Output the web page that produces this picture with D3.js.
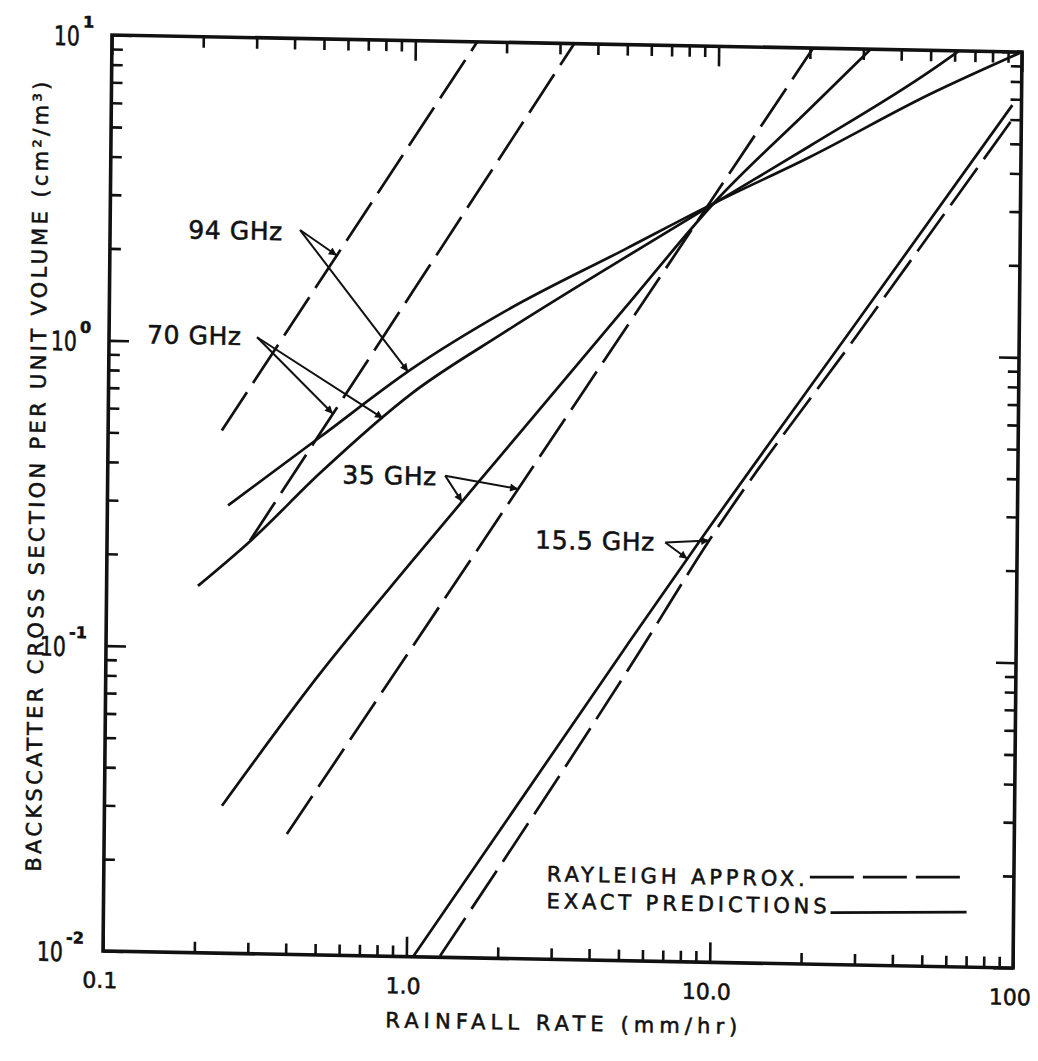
<!DOCTYPE html>
<html>
<head>
<meta charset="utf-8">
<script src="https://cdn.jsdelivr.net/npm/d3@7"></script>
<style>
  html, body { margin: 0; padding: 0; background: #ffffff; }
  text { font-family: "DejaVu Sans", sans-serif; fill: #111; stroke: #111; stroke-width: 0.55; }
</style>
</head>
<body>
<svg id="chart" width="1038" height="1061"></svg>
<script>
// Rainfall rate R (mm/hr) vs. backscatter cross section per unit volume (cm^2/m^3)

// Rayleigh approximation (dashed)
const rayleigh94R  = [0.237, 0.6, 1.6];
const rayleigh94S  = [0.515, 2.18, 10];
const rayleigh70R  = [0.296, 1.0, 3.34];
const rayleigh70S  = [0.2255, 1.51, 10];
const rayleigh35R  = [0.40, 1.0, 20.5];
const rayleigh35S  = [0.0248, 0.100, 10];
const rayleigh155R = [1.291, 5.77, 9.65, 30, 93.3];
const rayleigh155S = [0.0101, 0.104, 0.2405, 1.20, 6.0];

// Exact (Mie) predictions (solid)
const exact94R  = [0.25, 0.5, 1.0, 2.0, 5.0, 10, 20, 50, 100];
const exact94S  = [0.293, 0.497, 0.843, 1.31, 2.14, 3.10, 4.38, 7.19, 10.0];
const exact70R  = [0.2, 0.3, 0.5, 1.0, 2.0, 5.0, 10, 20, 50, 62];
const exact70S  = [0.159, 0.227, 0.378, 0.70, 1.12, 2.01, 3.10, 4.76, 8.56, 10.0];
const exact35R  = [0.244, 0.5, 1.0, 2.0, 5.0, 10, 20, 31.7];
const exact35S  = [0.0304, 0.0817, 0.194, 0.451, 1.37, 3.15, 6.3, 10.0];
const exact155R = [1.052, 5.07, 9.01, 30, 93.3];
const exact155S = [0.010, 0.1036, 0.2404, 1.33, 6.69];

// Axis ticks
const xTickValues = [0.1, 1, 10, 100];
const xTickLabels = ["0.1", "1.0", "10.0", "100"];
const yTickValues = [0.01, 0.1, 1, 10];
const yTickExps   = ["-2", "-1", "0", "1"];

// Frequency labels: text anchor (R, sigma), arrow origin (R, sigma), arrow targets on curves
const labelNames   = ["94 GHz", "70 GHz", "35 GHz", "15.5 GHz"];
const labelR       = [0.181, 0.1334, 0.593, 2.578];
const labelS       = [2.18, 0.983, 0.351, 0.221];
const arrowFromR   = [0.423, 0.3076, 1.295, 6.92];
const arrowFromS   = [2.36, 1.045, 0.378, 0.2355];
const arrowDashedR = [0.56, 0.55, 2.255, 9.65];
const arrowSolidR  = [0.97, 0.805, 1.475, 8.19];

const legendNames = ["RAYLEIGH APPROX.", "EXACT PREDICTIONS"];

// ---------------------------------------------------------------
const W = 910, H = 916;
const svg = d3.select("#chart");
svg.append("rect").attr("width", 1038).attr("height", 1061).attr("fill", "#ffffff");

const defs = svg.append("defs");
defs.append("clipPath").attr("id", "plotClip")
  .append("rect").attr("x", 0).attr("y", 0).attr("width", W).attr("height", H);
defs.append("marker")
  .attr("id", "arrowHead")
  .attr("viewBox", "0 0 10 10")
  .attr("refX", 10).attr("refY", 5)
  .attr("markerWidth", 12).attr("markerHeight", 8)
  .attr("markerUnits", "userSpaceOnUse")
  .attr("orient", "auto")
  .append("path").attr("d", "M0,0 L10,5 L0,10 Z").attr("fill", "#111");

// plotting frame, slightly sheared like a hand-mounted drafting sheet
const g = svg.append("g").attr("transform", "matrix(1,0.0187,-0.0098,1,112,35)");

const x = d3.scaleLog().domain([0.1, 100]).range([0, W]);
const y = d3.scaleLog().domain([0.01, 10]).range([H, 0]);

const isMajor = d => Math.abs(Math.log10(d) - Math.round(Math.log10(d))) < 1e-6;
const minorLen = 11, majorLen = 20;

function styleAxis(sel, majorAttr, majorVal) {
  sel.select(".domain").remove();
  sel.selectAll(".tick text").remove();
  sel.selectAll(".tick line").attr("stroke", "#111").attr("stroke-width", 2.6);
  sel.selectAll(".tick line").filter(isMajor).attr(majorAttr, majorVal);
}

g.append("g").attr("transform", `translate(0,${H})`)
  .call(d3.axisBottom(x).tickValues(x.ticks()).tickSize(-minorLen).tickFormat(""))
  .call(s => styleAxis(s, "y2", -majorLen));
g.append("g")
  .call(d3.axisTop(x).tickValues(x.ticks()).tickSize(-minorLen).tickFormat(""))
  .call(s => styleAxis(s, "y2", majorLen));
g.append("g")
  .call(d3.axisLeft(y).tickValues(y.ticks()).tickSize(-minorLen).tickFormat(""))
  .call(s => styleAxis(s, "x2", majorLen));
g.append("g").attr("transform", `translate(${W},0)`)
  .call(d3.axisRight(y).tickValues(y.ticks()).tickSize(-minorLen).tickFormat(""))
  .call(s => styleAxis(s, "x2", -majorLen));

g.append("rect").attr("x", 0).attr("y", 0).attr("width", W).attr("height", H)
  .attr("fill", "none").attr("stroke", "#111").attr("stroke-width", 3.6);

// x tick labels
g.selectAll(".xlab").data(xTickValues).enter().append("text")
  .attr("class", "xlab")
  .attr("x", d => x(d) - 3).attr("y", H + 37)
  .attr("text-anchor", "middle").attr("font-size", 22)
  .text((d, i) => xTickLabels[i]);

// y tick labels: a narrow "10" followed by a raised exponent
const negExp = i => yTickExps[i].startsWith("-");
const ylab = g.selectAll(".ylab").data(yTickValues).enter().append("g").attr("class", "ylab");
ylab.append("g")
  .attr("transform", (d, i) => `translate(${negExp(i) ? -40 : -32},${y(d) + 11}) scale(0.76,1)`)
  .append("text")
  .attr("text-anchor", "end").attr("font-size", 27)
  .text("10");
ylab.append("text")
  .attr("x", (d, i) => negExp(i) ? -37 : -29)
  .attr("y", d => y(d) - 7)
  .attr("font-size", 16).attr("font-weight", "bold")
  .text((d, i) => yTickExps[i]);

// axis titles
g.append("text")
  .attr("transform", "translate(-63,838) rotate(-90)")
  .attr("text-anchor", "start").attr("font-size", 21)
  .attr("textLength", 790).attr("lengthAdjust", "spacing")
  .text("BACKSCATTER CROSS SECTION PER UNIT VOLUME (cm²/m³)");
g.append("text")
  .attr("x", 283).attr("y", 987)
  .attr("text-anchor", "start").attr("font-size", 21)
  .attr("textLength", 352).attr("lengthAdjust", "spacing")
  .text("RAINFALL RATE (mm/hr)");

// curves
const plot = g.append("g").attr("clip-path", "url(#plotClip)");
const toPts = (R, S) => R.map((r, i) => [r, S[i]]);
const lineSmooth = d3.line().x(d => x(d[0])).y(d => y(d[1])).curve(d3.curveMonotoneX);

const dashedSeries = [toPts(rayleigh94R, rayleigh94S), toPts(rayleigh70R, rayleigh70S),
                      toPts(rayleigh35R, rayleigh35S), toPts(rayleigh155R, rayleigh155S)];
const solidSeries  = [toPts(exact94R, exact94S), toPts(exact70R, exact70S),
                      toPts(exact35R, exact35S), toPts(exact155R, exact155S)];

plot.selectAll(".rayleigh").data(dashedSeries).enter().append("path")
  .attr("class", "rayleigh")
  .attr("d", lineSmooth)
  .attr("fill", "none").attr("stroke", "#111").attr("stroke-width", 2.7)
  .attr("stroke-dasharray", "46,11");
plot.selectAll(".exact").data(solidSeries).enter().append("path")
  .attr("class", "exact")
  .attr("d", lineSmooth)
  .attr("fill", "none").attr("stroke", "#111").attr("stroke-width", 2.7);

// value on a curve at rainfall rate r (log-log interpolation)
function sigmaAt(pts, r) {
  const lr = Math.log10(r);
  for (let i = 0; i < pts.length - 1; i++) {
    const a = Math.log10(pts[i][0]), b = Math.log10(pts[i + 1][0]);
    if (lr >= a && lr <= b || i === pts.length - 2) {
      const t = (lr - a) / (b - a);
      return Math.pow(10, Math.log10(pts[i][1]) + t * (Math.log10(pts[i + 1][1]) - Math.log10(pts[i][1])));
    }
  }
}

// frequency labels and pointer arrows
labelNames.forEach((name, i) => {
  g.append("text")
    .attr("x", x(labelR[i])).attr("y", y(labelS[i]))
    .attr("font-size", 25).attr("letter-spacing", 0.6)
    .text(name);
  const fx = x(arrowFromR[i]), fy = y(arrowFromS[i]);
  [[dashedSeries[i], arrowDashedR[i]], [solidSeries[i], arrowSolidR[i]]].forEach(([pts, r]) => {
    g.append("line")
      .attr("x1", fx).attr("y1", fy)
      .attr("x2", x(r)).attr("y2", y(sigmaAt(pts, r)))
      .attr("stroke", "#111").attr("stroke-width", 2)
      .attr("marker-end", "url(#arrowHead)");
  });
});

// legend
const legend = g.append("g");
legend.append("text").attr("x", 443).attr("y", 838).attr("font-size", 21)
  .attr("textLength", 258).attr("lengthAdjust", "spacing").text(legendNames[0]);
legend.append("text").attr("x", 443).attr("y", 865).attr("font-size", 21)
  .attr("textLength", 280).attr("lengthAdjust", "spacing").text(legendNames[1]);
legend.append("line").attr("x1", 706).attr("x2", 863).attr("y1", 829).attr("y2", 826)
  .attr("stroke", "#111").attr("stroke-width", 2.8).attr("stroke-dasharray", "44,9");
legend.append("line").attr("x1", 727).attr("x2", 863).attr("y1", 864).attr("y2", 861)
  .attr("stroke", "#111").attr("stroke-width", 2.8);
</script>
</body>
</html>
